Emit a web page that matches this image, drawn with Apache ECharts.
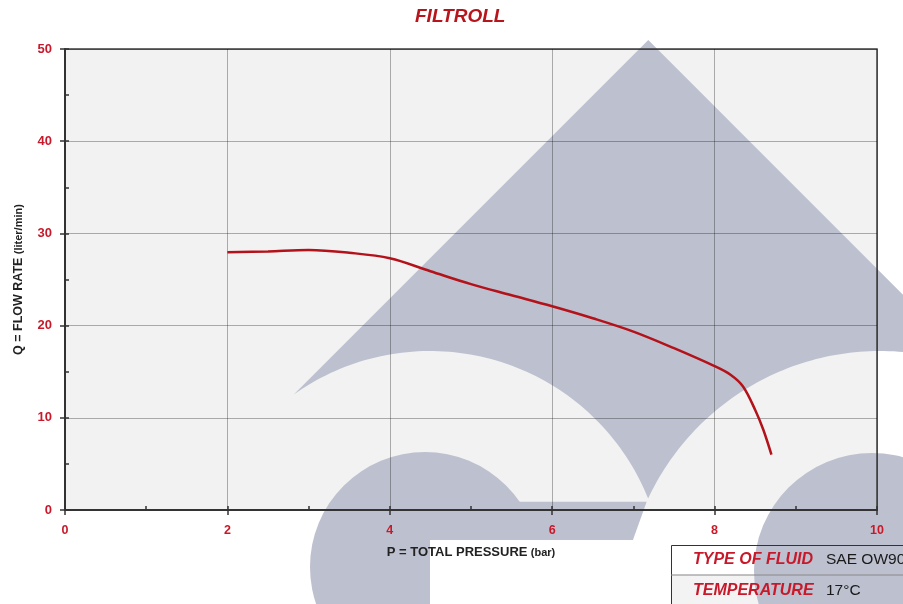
<!DOCTYPE html>
<html>
<head>
<meta charset="utf-8">
<script src="https://cdn.jsdelivr.net/npm/echarts@6/dist/echarts.min.js"></script>
<style>
html,body{margin:0;padding:0;background:#fff;}
#chart{width:903px;height:604px;}
</style>
</head>
<body>
<div id="chart"></div>
<script>
// ---- data ----
const titleText = 'FILTROLL';
const xName = 'P = TOTAL PRESSURE';
const xUnit = '(bar)';
const yName = 'Q = FLOW RATE';
const yUnit = '(liter/min)';
const pressure = [2, 2.5, 3, 3.5, 4, 4.5, 5, 5.5, 6, 6.5, 7, 7.5, 8, 8.2, 8.35, 8.5, 8.6, 8.7];
const flow     = [27.95, 28.05, 28.2, 27.9, 27.3, 25.9, 24.5, 23.3, 22.1, 20.8, 19.35, 17.55, 15.6, 14.65, 13.4, 10.85, 8.7, 6.0];
const tableLabels = ['TYPE OF FLUID', 'TEMPERATURE'];
const tableValues = ['SAE OW90', '17°C'];

const RED = '#c8192a';
const LOGO = '#bdc0cf';
const G = {left: 65, top: 49, right: 26, bottom: 94};
const W = 903, H = 604;
const plot = {x: G.left, y: G.top, w: W - G.left - G.right, h: H - G.top - G.bottom};

// ---- decorative watermark geometry ----
function lineCircle(p, d, c, r) {
  const fx = p[0] - c[0], fy = p[1] - c[1];
  const a = d[0]*d[0] + d[1]*d[1], b = 2*(fx*d[0] + fy*d[1]), cc = fx*fx + fy*fy - r*r;
  const t = (-b - Math.sqrt(b*b - 4*a*cc)) / (2*a);
  return [p[0] + t*d[0], p[1] + t*d[1]];
}
function circleCircleUpper(c1, r1, c2, r2) {
  const dx = c2[0]-c1[0], dy = c2[1]-c1[1], d = Math.hypot(dx, dy);
  const a = (r1*r1 - r2*r2 + d*d) / (2*d), h = Math.sqrt(r1*r1 - a*a);
  const bx = c1[0] + a*dx/d, by = c1[1] + a*dy/d;
  const p1 = [bx - h*dy/d, by + h*dx/d], p2 = [bx + h*dy/d, by - h*dx/d];
  return p1[1] < p2[1] ? p1 : p2;
}
function arcPts(c, r, a0, a1) {
  const out = [], n = 80;
  for (let i = 0; i <= n; i++) {
    const a = a0 + (a1 - a0) * i / n;
    out.push([c[0] + r*Math.cos(a), c[1] + r*Math.sin(a)]);
  }
  return out;
}
const apex = [648.3, 40];
const c1 = [430, 586], r1 = 235;
const c2 = [880, 607], r2 = 256;
const P1 = lineCircle(apex, [-1, 1], c1, r1);
const P3 = lineCircle(apex, [1, 1], c2, r2);
const P2 = circleCircleUpper(c1, r1, c2, r2);
const ang = (p, c) => Math.atan2(p[1]-c[1], p[0]-c[0]);
const wedge = [apex].concat(
  arcPts(c1, r1, ang(P1, c1), ang(P2, c1)),
  arcPts(c2, r2, ang(P2, c2), ang(P3, c2))
);
const gC = [425, 567], gR = 115;
const barTop = 501.7, barBot = 540;
const xOn2 = y => c2[0] - Math.sqrt(r2*r2 - (y - c2[1])*(y - c2[1]));
const bar = [[gC[0], barTop], [xOn2(barTop), barTop], [xOn2(barBot), barBot], [gC[0], barBot]];

const chart = echarts.init(document.getElementById('chart'), null, {renderer: 'canvas'});
const font = 'Liberation Sans, Arial, sans-serif';
const lineData = pressure.map((p, i) => [p, flow[i]]);

const tableTop = 545, rowH = 29.5, tableLeft = 671;

chart.setOption({
  animation: false,
  backgroundColor: '#ffffff',
  title: {
    text: titleText, left: 415, top: 7, padding: 0,
    textStyle: {color: '#b8141c', fontSize: 19, fontWeight: 'bold', fontStyle: 'italic', fontFamily: font}
  },
  grid: {left: G.left, top: G.top, right: G.right, bottom: G.bottom, show: true,
         backgroundColor: 'transparent', borderColor: '#3c3c3c', borderWidth: 1.5},
  xAxis: [{
    type: 'value', min: 0, max: 10, interval: 2, position: 'bottom',
    name: '{a|' + xName + '} {b|' + xUnit + '}', nameLocation: 'middle', nameGap: 36,
    nameTextStyle: {rich: {
      a: {fontFamily: font, fontWeight: 'bold', fontSize: 13, color: '#222'},
      b: {fontFamily: font, fontWeight: 'bold', fontSize: 11, color: '#222'}}},
    axisLine: {lineStyle: {color: '#333', width: 2}},
    axisTick: {show: true, inside: false, length: 5, lineStyle: {color: '#333', width: 1.5}},
    axisLabel: {color: RED, fontWeight: 'bold', fontSize: 12.5, fontFamily: font, margin: 14},
    splitLine: {show: true, lineStyle: {color: 'rgba(0,0,0,0.3)', width: 1}}
  }, {
    type: 'value', min: 0, max: 10, interval: 2, position: 'bottom',
    axisLine: {show: false},
    axisTick: {show: true, inside: true, length: 4, lineStyle: {color: '#333', width: 1.5}},
    minorTick: {show: true, splitNumber: 2, length: 4, lineStyle: {color: '#333', width: 1.5}},
    axisLabel: {show: false}, splitLine: {show: false}
  }],
  yAxis: [{
    type: 'value', min: 0, max: 50, interval: 10, position: 'left',
    name: '{a|' + yName + '} {b|' + yUnit + '}', nameLocation: 'middle', nameGap: 40, nameRotate: 90,
    nameTextStyle: {rich: {
      a: {fontFamily: font, fontWeight: 'bold', fontSize: 12.5, color: '#222'},
      b: {fontFamily: font, fontWeight: 'bold', fontSize: 11, color: '#222'}}},
    axisLine: {show: true, lineStyle: {color: '#333', width: 2}},
    axisTick: {show: true, inside: false, length: 5, lineStyle: {color: '#333', width: 1.5}},
    axisLabel: {color: RED, fontWeight: 'bold', fontSize: 13, fontFamily: font, margin: 13},
    splitLine: {show: true, lineStyle: {color: 'rgba(0,0,0,0.3)', width: 1}}
  }, {
    type: 'value', min: 0, max: 50, interval: 10, position: 'left',
    axisLine: {show: false},
    axisTick: {show: true, inside: true, length: 4, lineStyle: {color: '#333', width: 1.5}},
    minorTick: {show: true, splitNumber: 2, length: 4, lineStyle: {color: '#333', width: 1.5}},
    axisLabel: {show: false}, splitLine: {show: false}
  }],
  series: [{
    type: 'line', xAxisIndex: 0, yAxisIndex: 0, data: lineData,
    showSymbol: false, smooth: 0.35, z: 5,
    lineStyle: {color: '#b3121a', width: 2.5}
  }],
  graphic: [
    {type: 'rect', silent: true, z: -20, shape: {x: plot.x, y: plot.y, width: plot.w, height: plot.h}, style: {fill: '#f2f2f2'}},
    {type: 'rect', silent: true, z: -20, shape: {x: tableLeft, y: tableTop + rowH, width: 300, height: 60}, style: {fill: '#f3f3f3'}},
    {type: 'polygon', silent: true, z: -10, shape: {points: wedge}, style: {fill: LOGO}},
    {type: 'circle', silent: true, z: -10, shape: {cx: gC[0], cy: gC[1], r: gR}, style: {fill: LOGO}},
    {type: 'rect', silent: true, z: -9, shape: {x: 430, y: barBot, width: 120, height: 80}, style: {fill: '#ffffff'}},
    {type: 'polygon', silent: true, z: -9, shape: {points: bar}, style: {fill: LOGO}},
    {type: 'circle', silent: true, z: -10, shape: {cx: 872, cy: 571, r: 118}, style: {fill: LOGO}},
    {type: 'rect', silent: true, z: 10, shape: {x: tableLeft + 0.5, y: tableTop + 0.5, width: 300, height: 80}, style: {fill: 'none', stroke: '#333', lineWidth: 1}},
    {type: 'line', silent: true, z: 10, shape: {x1: tableLeft, y1: tableTop + rowH + 0.5, x2: 903, y2: tableTop + rowH + 0.5}, style: {stroke: '#888', lineWidth: 1}},
    {type: 'text', silent: true, z: 11, x: 693, y: tableTop + rowH / 2, style: {text: tableLabels[0], fill: RED, font: 'italic bold 16px ' + font, textVerticalAlign: 'middle'}},
    {type: 'text', silent: true, z: 11, x: 826, y: tableTop + rowH / 2, style: {text: tableValues[0], fill: '#1a1a1a', font: '15.5px ' + font, textVerticalAlign: 'middle'}},
    {type: 'text', silent: true, z: 11, x: 693, y: tableTop + rowH * 1.5 + 1, style: {text: tableLabels[1], fill: RED, font: 'italic bold 16px ' + font, textVerticalAlign: 'middle'}},
    {type: 'text', silent: true, z: 11, x: 826, y: tableTop + rowH * 1.5 + 1, style: {text: tableValues[1], fill: '#1a1a1a', font: '15.5px ' + font, textVerticalAlign: 'middle'}}
  ]
});
</script>
</body>
</html>
